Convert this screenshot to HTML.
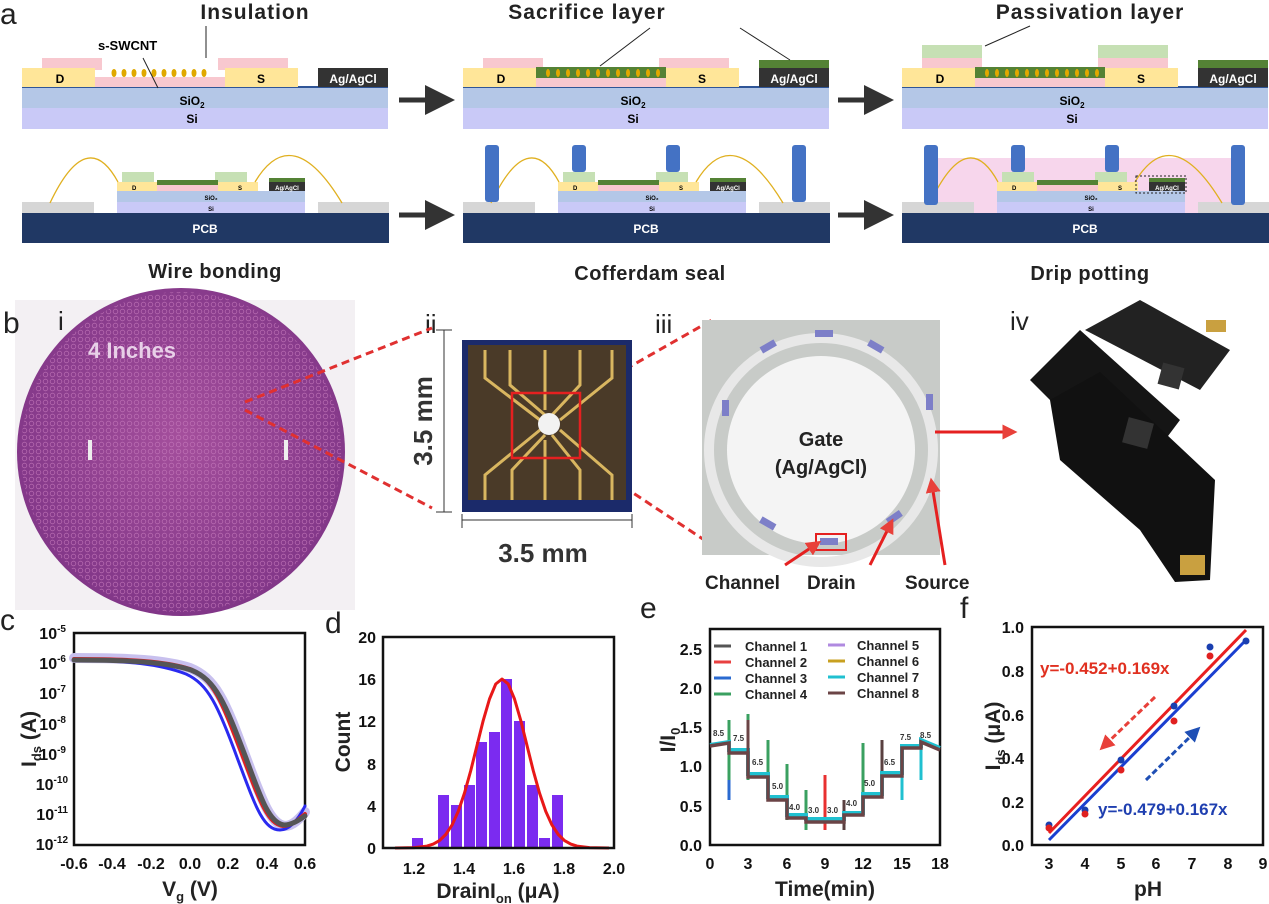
<!DOCTYPE html>
<html><head><meta charset="utf-8"><style>
html,body{margin:0;padding:0;background:#fff}
svg{display:block;font-family:"Liberation Sans",Arial,sans-serif}
.tk{font-size:16px;font-weight:bold;fill:#111}
.ti{font-size:21px;font-weight:bold;fill:#222}
.lb{font-size:30px;fill:#222}
</style></head><body>
<svg width="1269" height="904" viewBox="0 0 1269 904" xmlns="http://www.w3.org/2000/svg">
<defs>
<marker id="ah" markerWidth="6" markerHeight="6" refX="3" refY="3" orient="auto"><path d="M0,0 L6,3 L0,6z" fill="#333"/></marker>
<marker id="ar" markerWidth="5" markerHeight="5" refX="2.5" refY="2.5" orient="auto"><path d="M0,0 L5,2.5 L0,5z" fill="#e8403a"/></marker>
<marker id="ab" markerWidth="5" markerHeight="5" refX="2.5" refY="2.5" orient="auto"><path d="M0,0 L5,2.5 L0,5z" fill="#1f4fb5"/></marker>
<radialGradient id="waf" cx="0.5" cy="0.45" r="0.6"><stop offset="0" stop-color="#a44f9c"/><stop offset="1" stop-color="#7e3486"/></radialGradient>
<pattern id="dots" width="7" height="7" patternUnits="userSpaceOnUse"><circle cx="3.5" cy="3.5" r="2.3" fill="none" stroke="#c77bbd" stroke-width="0.8"/></pattern>
</defs>

<!-- ===== Panel a ===== -->
<text x="0" y="24" class="lb">a</text>
<text x="255" y="19" font-size="21" font-weight="bold" fill="#222" text-anchor="middle" letter-spacing="1">Insulation</text>
<text x="587" y="19" font-size="21" font-weight="bold" fill="#222" text-anchor="middle" letter-spacing="1">Sacrifice layer</text>
<text x="1090" y="19" font-size="21" font-weight="bold" fill="#222" text-anchor="middle" letter-spacing="1">Passivation layer</text>

<g id="t1" transform="translate(22,0)">
<rect x="0" y="88" width="366" height="20" fill="#b4c7e7"/>
<rect x="0" y="108" width="366" height="21" fill="#c9c9f7"/>
<rect x="0" y="86" width="366" height="2" fill="#2f5597"/>
<rect x="20" y="58" width="60" height="12" fill="#f8c8cf"/>
<rect x="73" y="77" width="130" height="10" fill="#f8c8cf"/>
<rect x="196" y="58" width="70" height="12" fill="#f8c8cf"/>
<rect x="0" y="68" width="73" height="19" fill="#ffe699"/>
<rect x="203" y="68" width="73" height="19" fill="#ffe699"/>
<rect x="296" y="68" width="70" height="19" fill="#333"/>
<text x="38" y="83" font-size="12" font-weight="bold" text-anchor="middle">D</text>
<text x="239" y="83" font-size="12" font-weight="bold" text-anchor="middle">S</text>
<text x="331" y="83" font-size="12" font-weight="bold" fill="#fff" text-anchor="middle">Ag/AgCl</text>
<text x="170" y="105" font-size="12" font-weight="bold" text-anchor="middle">SiO<tspan font-size="8" dy="3">2</tspan></text>
<text x="170" y="123" font-size="12" font-weight="bold" text-anchor="middle">Si</text>
</g>
<g fill="#e0a800">
<ellipse cx="114" cy="73" rx="2.5" ry="4"/><ellipse cx="124" cy="73" rx="2.5" ry="4"/><ellipse cx="134" cy="73" rx="2.5" ry="4"/><ellipse cx="144" cy="73" rx="2.5" ry="4"/><ellipse cx="154" cy="73" rx="2.5" ry="4"/><ellipse cx="164" cy="73" rx="2.5" ry="4"/><ellipse cx="174" cy="73" rx="2.5" ry="4"/><ellipse cx="184" cy="73" rx="2.5" ry="4"/><ellipse cx="194" cy="73" rx="2.5" ry="4"/><ellipse cx="204" cy="73" rx="2.5" ry="4"/>
</g>
<text x="98" y="50" font-size="13" font-weight="bold">s-SWCNT</text>
<line x1="143" y1="58" x2="158" y2="88" stroke="#222" stroke-width="1"/>
<line x1="206" y1="26" x2="206" y2="58" stroke="#222" stroke-width="1"/>

<g transform="translate(441,0)"><use href="#t1"/></g>
<rect x="536" y="67" width="130" height="11" fill="#548235"/>
<rect x="759" y="60" width="70" height="8" fill="#548235"/>
<g fill="#e0a800"><ellipse cx="548" cy="73" rx="2" ry="4"/><ellipse cx="558" cy="73" rx="2" ry="4"/><ellipse cx="568" cy="73" rx="2" ry="4"/><ellipse cx="578" cy="73" rx="2" ry="4"/><ellipse cx="588" cy="73" rx="2" ry="4"/><ellipse cx="598" cy="73" rx="2" ry="4"/><ellipse cx="608" cy="73" rx="2" ry="4"/><ellipse cx="618" cy="73" rx="2" ry="4"/><ellipse cx="628" cy="73" rx="2" ry="4"/><ellipse cx="638" cy="73" rx="2" ry="4"/><ellipse cx="648" cy="73" rx="2" ry="4"/><ellipse cx="658" cy="73" rx="2" ry="4"/></g>
<line x1="600" y1="66" x2="650" y2="28" stroke="#222"/><line x1="790" y1="60" x2="740" y2="28" stroke="#222"/>

<g transform="translate(880,0)"><use href="#t1"/></g>
<rect x="975" y="67" width="130" height="11" fill="#548235"/>
<rect x="1198" y="60" width="70" height="8" fill="#548235"/>
<rect x="922" y="45" width="60" height="13" fill="#c6e0b4"/>
<rect x="1098" y="45" width="70" height="13" fill="#c6e0b4"/>
<g fill="#e0a800"><ellipse cx="987" cy="73" rx="2" ry="4"/><ellipse cx="997" cy="73" rx="2" ry="4"/><ellipse cx="1007" cy="73" rx="2" ry="4"/><ellipse cx="1017" cy="73" rx="2" ry="4"/><ellipse cx="1027" cy="73" rx="2" ry="4"/><ellipse cx="1037" cy="73" rx="2" ry="4"/><ellipse cx="1047" cy="73" rx="2" ry="4"/><ellipse cx="1057" cy="73" rx="2" ry="4"/><ellipse cx="1067" cy="73" rx="2" ry="4"/><ellipse cx="1077" cy="73" rx="2" ry="4"/><ellipse cx="1087" cy="73" rx="2" ry="4"/><ellipse cx="1097" cy="73" rx="2" ry="4"/></g>
<line x1="985" y1="46" x2="1030" y2="26" stroke="#222"/>

<g stroke="#333" stroke-width="5" marker-end="url(#ah)">
<line x1="399" y1="100" x2="440" y2="100"/><line x1="838" y1="100" x2="879" y2="100"/>
<line x1="399" y1="215" x2="440" y2="215"/><line x1="838" y1="215" x2="879" y2="215"/>
</g>

<g id="b1" transform="translate(22,0)">
<rect x="0" y="213" width="367" height="30" fill="#203864"/>
<text x="183" y="233" font-size="12" font-weight="bold" fill="#fff" text-anchor="middle">PCB</text>
<rect x="0" y="202" width="72" height="11" fill="#d6d6d6"/>
<rect x="296" y="202" width="71" height="11" fill="#d6d6d6"/>
<rect x="95" y="191" width="188" height="11" fill="#b4c7e7"/>
<rect x="95" y="202" width="188" height="11" fill="#c9c9f7"/>
<rect x="100" y="172" width="32" height="10" fill="#c6e0b4"/>
<rect x="193" y="172" width="32" height="10" fill="#c6e0b4"/>
<rect x="95" y="182" width="40" height="9" fill="#ffe699"/>
<rect x="196" y="182" width="40" height="9" fill="#ffe699"/>
<rect x="135" y="184" width="61" height="7" fill="#f8c8cf"/>
<rect x="135" y="180" width="61" height="5" fill="#548235"/>
<rect x="247" y="182" width="36" height="9" fill="#333"/>
<rect x="247" y="178" width="36" height="4" fill="#548235"/>
<text x="110" y="190" font-size="6" font-weight="bold">D</text>
<text x="216" y="190" font-size="6" font-weight="bold">S</text>
<text x="265" y="190" font-size="6" font-weight="bold" fill="#fff" text-anchor="middle">Ag/AgCl</text>
<text x="189" y="200" font-size="6" font-weight="bold" text-anchor="middle">SiO₂</text>
<text x="189" y="211" font-size="6" font-weight="bold" text-anchor="middle">Si</text>
<path d="M28,203 Q65,125 96,182" fill="none" stroke="#e0b020" stroke-width="1.3"/>
<path d="M233,182 Q270,120 320,203" fill="none" stroke="#e0b020" stroke-width="1.3"/>
</g>
<g transform="translate(441,0)"><use href="#b1"/></g>
<g fill="#4472c4">
<rect x="485" y="145" width="14" height="57" rx="3"/><rect x="572" y="145" width="14" height="27" rx="3"/>
<rect x="666" y="145" width="14" height="27" rx="3"/><rect x="792" y="145" width="14" height="57" rx="3"/>
</g>
<rect x="930" y="158" width="312" height="55" fill="#f7d6ec"/>
<g transform="translate(880,0)"><use href="#b1"/></g>
<g fill="#4472c4">
<rect x="924" y="145" width="14" height="60" rx="3"/><rect x="1011" y="145" width="14" height="27" rx="3"/>
<rect x="1105" y="145" width="14" height="27" rx="3"/><rect x="1231" y="145" width="14" height="60" rx="3"/>
</g>
<rect x="1136" y="176" width="50" height="17" fill="none" stroke="#222" stroke-dasharray="2,2"/>

<text x="215" y="278" font-size="20" font-weight="bold" fill="#222" text-anchor="middle" letter-spacing="0.5">Wire bonding</text>
<text x="650" y="280" font-size="20" font-weight="bold" fill="#222" text-anchor="middle" letter-spacing="0.5">Cofferdam seal</text>
<text x="1090" y="280" font-size="20" font-weight="bold" fill="#222" text-anchor="middle" letter-spacing="0.5">Drip potting</text>

<!-- ===== Panel b ===== -->
<rect x="15" y="300" width="340" height="310" fill="#f3f0f3"/>
<circle cx="181" cy="452" r="164" fill="url(#waf)"/>
<circle cx="181" cy="452" r="160" fill="url(#dots)" opacity="0.7"/>
<text x="88" y="358" font-size="22" font-weight="bold" fill="#e8d0e8">4 Inches</text>
<rect x="88" y="440" width="4" height="20" fill="#eee"/><rect x="284" y="440" width="4" height="20" fill="#eee"/>
<text x="3" y="333" class="lb">b</text>
<text x="58" y="330" font-size="26" fill="#222">i</text>
<text x="425" y="333" font-size="26" fill="#222">ii</text>
<text x="655" y="333" font-size="26" fill="#222">iii</text>
<text x="1010" y="330" font-size="26" fill="#222">iv</text>
<g stroke="#e03030" stroke-width="3" stroke-dasharray="8,5" fill="none">
<line x1="245" y1="402" x2="432" y2="328"/><line x1="245" y1="410" x2="432" y2="508"/>
<line x1="580" y1="395" x2="712" y2="320"/><line x1="580" y1="458" x2="712" y2="545"/>
</g>
<rect x="462" y="340" width="170" height="172" fill="#1b2a6a"/>
<rect x="468" y="345" width="158" height="155" fill="#4a3a28"/>
<g stroke="#d9b660" stroke-width="3" fill="none">
<path d="M485,350 V378 L540,420"/><path d="M510,350 V385 L545,415"/><path d="M545,350 V410"/><path d="M580,350 V385 L552,415"/><path d="M612,350 V378 L560,420"/>
<path d="M485,500 V475 L540,430"/><path d="M512,500 V470 L545,435"/><path d="M545,500 V440"/><path d="M580,500 V470 L552,435"/><path d="M612,500 V475 L560,430"/>
</g>
<circle cx="549" cy="424" r="11" fill="#f2f2f2"/>
<rect x="512" y="393" width="68" height="65" fill="none" stroke="#e52020" stroke-width="2.5"/>
<line x1="436" y1="330" x2="452" y2="330" stroke="#333"/><line x1="436" y1="512" x2="452" y2="512" stroke="#333"/>
<line x1="444" y1="330" x2="444" y2="512" stroke="#333"/>
<text transform="translate(432,421) rotate(-90)" font-size="26" font-weight="bold" fill="#333" text-anchor="middle">3.5 mm</text>
<line x1="462" y1="520" x2="632" y2="520" stroke="#333"/><line x1="462" y1="514" x2="462" y2="528" stroke="#333"/><line x1="632" y1="514" x2="632" y2="528" stroke="#333"/>
<text x="543" y="562" font-size="26" font-weight="bold" fill="#333" text-anchor="middle">3.5 mm</text>
<rect x="702" y="320" width="238" height="235" fill="#c8cbc8"/>
<circle cx="821" cy="450" r="112" fill="none" stroke="#e8e8e8" stroke-width="10"/>
<circle cx="821" cy="450" r="94" fill="#f4f4f4"/>
<g fill="#7d7fc8">
<rect x="815" y="330" width="18" height="7"/><rect x="760" y="343" width="16" height="7" transform="rotate(-30 768 346)"/><rect x="868" y="343" width="16" height="7" transform="rotate(30 876 346)"/>
<rect x="722" y="400" width="7" height="16"/><rect x="926" y="394" width="7" height="16"/>
<rect x="760" y="520" width="16" height="7" transform="rotate(30 768 523)"/><rect x="820" y="538" width="18" height="7"/><rect x="886" y="514" width="16" height="7" transform="rotate(-35 894 517)"/>
</g>
<rect x="816" y="534" width="30" height="16" fill="none" stroke="#e52020" stroke-width="2"/>
<text x="821" y="446" font-size="20" font-weight="bold" fill="#222" text-anchor="middle">Gate</text>
<text x="821" y="474" font-size="20" font-weight="bold" fill="#222" text-anchor="middle">(Ag/AgCl)</text>
<g stroke="#e52020" stroke-width="3"><line x1="785" y1="565" x2="815" y2="545" marker-end="url(#ar)"/><line x1="870" y1="565" x2="890" y2="525" marker-end="url(#ar)"/><line x1="945" y1="565" x2="932" y2="485" marker-end="url(#ar)"/><line x1="935" y1="432" x2="1010" y2="432" marker-end="url(#ar)"/></g>
<text x="705" y="589" font-size="19" font-weight="bold" fill="#222">Channel</text>
<text x="807" y="589" font-size="19" font-weight="bold" fill="#222">Drain</text>
<text x="905" y="589" font-size="19" font-weight="bold" fill="#222">Source</text>
<path d="M1030,380 L1080,330 L1180,420 L1165,440 L1120,425 L1060,410 Z" fill="#151515"/>
<path d="M1085,330 L1140,300 L1230,350 L1200,390 Z" fill="#222"/>
<path d="M1050,400 L1100,372 L1215,480 L1210,580 L1175,582 L1140,530 L1060,460 Z" fill="#111"/>
<rect x="1125" y="420" width="26" height="26" fill="#333" transform="rotate(15 1138 433)"/>
<rect x="1160" y="365" width="22" height="22" fill="#333" transform="rotate(15 1171 376)"/>
<g fill="#c9a040"><rect x="1180" y="555" width="25" height="20"/><rect x="1206" y="320" width="20" height="12"/></g>

<!-- ===== Panel c ===== -->
<text x="0" y="630" class="lb">c</text>
<rect x="74" y="633" width="231" height="212" fill="none" stroke="#111" stroke-width="2.5"/>
<g class="tk" text-anchor="end">
<text x="66" y="639">10<tspan font-size="10" dy="-7">-5</tspan></text>
<text x="66" y="669">10<tspan font-size="10" dy="-7">-6</tspan></text>
<text x="66" y="699">10<tspan font-size="10" dy="-7">-7</tspan></text>
<text x="66" y="730">10<tspan font-size="10" dy="-7">-8</tspan></text>
<text x="66" y="760">10<tspan font-size="10" dy="-7">-9</tspan></text>
<text x="68" y="790">10<tspan font-size="10" dy="-7">-10</tspan></text>
<text x="68" y="820">10<tspan font-size="10" dy="-7">-11</tspan></text>
<text x="68" y="850">10<tspan font-size="10" dy="-7">-12</tspan></text>
</g>
<g class="tk" text-anchor="middle">
<text x="74" y="869">-0.6</text><text x="112" y="869">-0.4</text><text x="151" y="869">-0.2</text><text x="190" y="869">0.0</text><text x="228" y="869">0.2</text><text x="267" y="869">0.4</text><text x="305" y="869">0.6</text>
</g>
<text x="190" y="896" class="ti" text-anchor="middle">V<tspan font-size="13" dy="5">g</tspan><tspan dy="-5"> (V)</tspan></text>
<text transform="translate(36,739) rotate(-90)" class="ti" text-anchor="middle">I<tspan font-size="13" dy="5">ds</tspan><tspan dy="-5"> (A)</tspan></text>
<g fill="none" stroke-linecap="round">
<path d="M74,658 C130,658 165,660 190,668 C215,678 225,700 245,755 C262,800 270,824 285,826 C293,826 300,818 305,812" stroke="#c8c0ee" stroke-width="10"/>
<path d="M74,660 C130,661 160,664 186,674 C208,684 218,705 238,760 C255,805 263,830 280,830 C290,830 298,820 305,806" stroke="#2a2af0" stroke-width="3"/>
<path d="M74,659 C130,659 165,661 190,669 C214,679 222,702 243,757 C260,802 268,824 283,826 C292,826 299,819 305,814" stroke="#e02020" stroke-width="4"/>
<path d="M74,660 C130,660 166,662 191,670 C216,680 225,703 246,758 C262,802 270,823 284,825 C292,825 299,820 305,816" stroke="#555" stroke-width="5"/>
</g>

<!-- ===== Panel d ===== -->
<text x="325" y="633" class="lb">d</text>
<g fill="#7b2bf0">
<rect x="412" y="838" width="11" height="10"/>
<rect x="438" y="795" width="11" height="53"/><rect x="451" y="805" width="11" height="43"/><rect x="464" y="785" width="11" height="63"/>
<rect x="476" y="742" width="11" height="106"/><rect x="489" y="732" width="11" height="116"/><rect x="501" y="679" width="11" height="169"/>
<rect x="514" y="721" width="11" height="127"/><rect x="527" y="785" width="11" height="63"/><rect x="539" y="838" width="11" height="10"/><rect x="552" y="795" width="11" height="53"/>
</g>
<polyline points="395,848 414.5,847.6 427,846.1 433.25,844.1 439.5,840.6 445.75,834.5 452,825.1 458.25,811.4 464.5,793 470.75,770.6 477,745.5 483.25,720.4 489.5,699 495.75,684 502,679 508.25,684 514.5,699 520.75,720.4 527,745.5 533.25,770.6 539.5,793 545.75,811.4 552,825.1 558.25,834.5 564.5,840.6 570.75,844.1 577,846.1 589.5,847.6 609,848" fill="none" stroke="#e81818" stroke-width="3" stroke-linejoin="round"/>
<rect x="383" y="637" width="231" height="211" fill="none" stroke="#111" stroke-width="2.5"/>
<g class="tk" text-anchor="end">
<text x="376" y="854">0</text><text x="376" y="812">4</text><text x="376" y="770">8</text><text x="376" y="727">12</text><text x="376" y="685">16</text><text x="376" y="643">20</text>
</g>
<g class="tk" text-anchor="middle">
<text x="414" y="874">1.2</text><text x="464" y="874">1.4</text><text x="514" y="874">1.6</text><text x="564" y="874">1.8</text><text x="614" y="874">2.0</text>
</g>
<text x="498" y="898" class="ti" text-anchor="middle">DrainI<tspan font-size="13" dy="5">on</tspan><tspan dy="-5"> (μA)</tspan></text>
<text transform="translate(350,742) rotate(-90)" class="ti" text-anchor="middle">Count</text>

<!-- ===== Panel e ===== -->
<text x="640" y="618" class="lb">e</text>
<rect x="710" y="629" width="230" height="216" fill="none" stroke="#111" stroke-width="2.5"/>
<g class="tk" text-anchor="end">
<text x="702" y="851">0.0</text><text x="702" y="812">0.5</text><text x="702" y="772">1.0</text><text x="702" y="733">1.5</text><text x="702" y="694">2.0</text><text x="702" y="655">2.5</text>
</g>
<g class="tk" text-anchor="middle">
<text x="710" y="869">0</text><text x="748" y="869">3</text><text x="787" y="869">6</text><text x="825" y="869">9</text><text x="863" y="869">12</text><text x="902" y="869">15</text><text x="940" y="869">18</text>
</g>
<text x="825" y="896" class="ti" text-anchor="middle">Time(min)</text>
<text transform="translate(675,740) rotate(-90)" class="ti" text-anchor="middle">I/I<tspan font-size="13" dy="5">0</tspan></text>
<g stroke-width="3">
<line x1="729" y1="720" x2="729" y2="780" stroke="#3aa060"/><line x1="729" y1="780" x2="729" y2="800" stroke="#2a6ad0"/>
<line x1="748" y1="714" x2="748" y2="780" stroke="#3aa060"/>
<line x1="768" y1="740" x2="768" y2="800" stroke="#3aa060"/>
<line x1="787" y1="764" x2="787" y2="820" stroke="#3aa060"/>
<line x1="806" y1="790" x2="806" y2="830" stroke="#3aa060"/>
<line x1="825" y1="775" x2="825" y2="830" stroke="#e83030"/>
<line x1="844" y1="800" x2="844" y2="830" stroke="#5a4040"/>
<line x1="863" y1="743" x2="863" y2="800" stroke="#3aa060"/>
<line x1="882" y1="740" x2="882" y2="780" stroke="#5a4040"/>
<line x1="902" y1="760" x2="902" y2="800" stroke="#20c0d0"/>
<line x1="921" y1="745" x2="921" y2="780" stroke="#20c0d0"/>
</g>
<path d="M710,745 L729,742 L729,750 L748,750 L748,774 L768,774 L768,797 L787,797 L787,815 L806,815 L806,819 L825,819 L844,819 L844,813 L863,813 L863,794 L882,794 L882,773 L902,773 L902,746 L921,746 L921,740 L940,748" fill="none" stroke="#20c0d0" stroke-width="4"/>
<path d="M710,746 L729,743 L729,753 L748,753 L748,777 L768,777 L768,800 L787,800 L787,818 L806,818 L806,822 L825,822 L844,822 L844,815 L863,815 L863,797 L882,797 L882,776 L902,776 L902,748 L921,748 L921,742 L940,750" fill="none" stroke="#6b4446" stroke-width="3.5"/>
<line x1="748" y1="720" x2="748" y2="760" stroke="#6b4446" stroke-width="3"/>
<g font-size="8" font-weight="bold" fill="#333">
<text x="713" y="736">8.5</text><text x="733" y="741">7.5</text><text x="752" y="765">6.5</text><text x="772" y="789">5.0</text><text x="789" y="810">4.0</text><text x="808" y="813">3.0</text><text x="827" y="813">3.0</text><text x="846" y="806">4.0</text><text x="864" y="786">5.0</text><text x="884" y="765">6.5</text><text x="900" y="740">7.5</text><text x="920" y="738">8.5</text>
</g>
<g font-size="13" font-weight="bold" fill="#222">
<line x1="714" y1="646" x2="731" y2="646" stroke="#555" stroke-width="3"/><text x="745" y="651">Channel 1</text>
<line x1="714" y1="662" x2="731" y2="662" stroke="#e84040" stroke-width="3"/><text x="745" y="667">Channel 2</text>
<line x1="714" y1="678" x2="731" y2="678" stroke="#2a6ad0" stroke-width="3"/><text x="745" y="683">Channel 3</text>
<line x1="714" y1="694" x2="731" y2="694" stroke="#3aa060" stroke-width="3"/><text x="745" y="699">Channel 4</text>
<line x1="828" y1="645" x2="845" y2="645" stroke="#b08ae0" stroke-width="3"/><text x="857" y="650">Channel 5</text>
<line x1="828" y1="661" x2="845" y2="661" stroke="#c8a020" stroke-width="3"/><text x="857" y="666">Channel 6</text>
<line x1="828" y1="677" x2="845" y2="677" stroke="#20c0d0" stroke-width="3"/><text x="857" y="682">Channel 7</text>
<line x1="828" y1="693" x2="845" y2="693" stroke="#6b4446" stroke-width="3"/><text x="857" y="698">Channel 8</text>
</g>

<!-- ===== Panel f ===== -->
<text x="960" y="618" class="lb">f</text>
<rect x="1032" y="627" width="231" height="218" fill="none" stroke="#111" stroke-width="2.5"/>
<g class="tk" text-anchor="end">
<text x="1024" y="851">0.0</text><text x="1024" y="808">0.2</text><text x="1024" y="764">0.4</text><text x="1024" y="721">0.6</text><text x="1024" y="677">0.8</text><text x="1024" y="633">1.0</text>
</g>
<g class="tk" text-anchor="middle">
<text x="1049" y="869">3</text><text x="1085" y="869">4</text><text x="1121" y="869">5</text><text x="1156" y="869">6</text><text x="1192" y="869">7</text><text x="1228" y="869">8</text><text x="1263" y="869">9</text>
</g>
<text x="1148" y="896" class="ti" text-anchor="middle">pH</text>
<text transform="translate(1000,736) rotate(-90)" class="ti" text-anchor="middle">I<tspan font-size="13" dy="5">ds</tspan><tspan dy="-5"> (μA)</tspan></text>
<line x1="1049" y1="833" x2="1246" y2="630" stroke="#e82020" stroke-width="3"/>
<line x1="1049" y1="840" x2="1246" y2="640" stroke="#1a3fd0" stroke-width="3"/>
<g fill="#1a3fb0"><circle cx="1049" cy="825" r="3.5"/><circle cx="1085" cy="810" r="3.5"/><circle cx="1121" cy="760" r="3.5"/><circle cx="1174" cy="706" r="3.5"/><circle cx="1210" cy="647" r="3.5"/><circle cx="1246" cy="641" r="3.5"/></g>
<g fill="#e02020"><circle cx="1049" cy="828" r="3.5"/><circle cx="1085" cy="814" r="3.5"/><circle cx="1121" cy="770" r="3.5"/><circle cx="1174" cy="721" r="3.5"/><circle cx="1210" cy="656" r="3.5"/></g>
<text x="1040" y="674" font-size="17" font-weight="bold" fill="#e03020">y=-0.452+0.169x</text>
<text x="1098" y="815" font-size="17" font-weight="bold" fill="#1f3fb0">y=-0.479+0.167x</text>
<line x1="1155" y1="697" x2="1105" y2="745" stroke="#e8403a" stroke-width="3" stroke-dasharray="6,3" marker-end="url(#ar)"/>
<line x1="1146" y1="780" x2="1195" y2="732" stroke="#1f4fb5" stroke-width="3" stroke-dasharray="6,3" marker-end="url(#ab)"/>
</svg>
</body></html>
